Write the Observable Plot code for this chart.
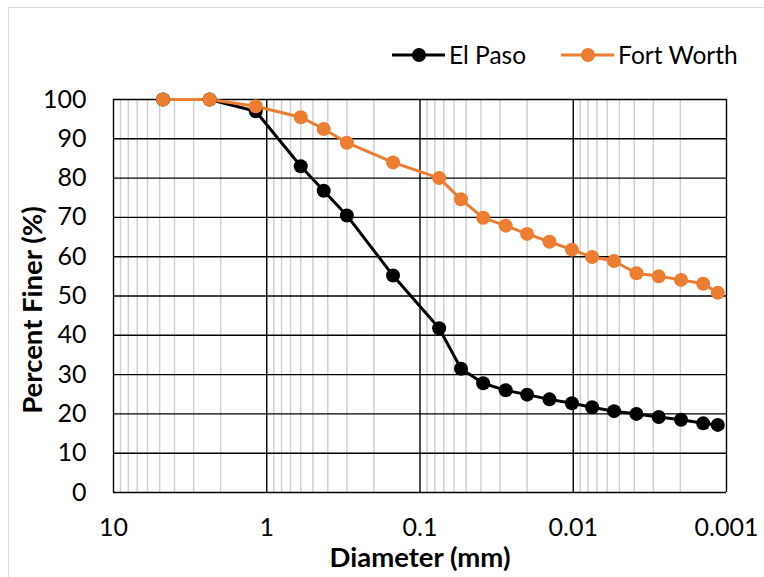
<!DOCTYPE html>
<html>
<head>
<meta charset="utf-8">
<script src="https://cdn.jsdelivr.net/npm/d3@7"></script>
<script src="https://cdn.jsdelivr.net/npm/@observablehq/plot@0.6"></script>
<style>
  html, body { margin: 0; padding: 0; background: #fff; }
  #wrap { position: relative; width: 764px; height: 577px; overflow: hidden; font-family: Lato, "Open Sans", sans-serif; }
  #border { position: absolute; left: 8px; top: 7px; width: 800px; height: 600px; border: 1.5px solid #d9d9d9; box-sizing: border-box; }
  #legend { position: absolute; top: 40px; left: 391px; display: flex; align-items: center; font-size: 24.5px; color: #000; white-space: nowrap; }
  .item { display: flex; align-items: center; margin-right: 34px; }
  .item svg { margin-right: 3px; }
  svg.chart { position: absolute; left: 0; top: 0; }
</style>
</head>
<body>
<div id="wrap"><div id="border"></div><div id="legend"></div></div>
<script>
// Diameters (mm) shared by both series
const diameters = [4.75, 2.36, 1.18, 0.6, 0.425, 0.3, 0.15, 0.075, 0.054, 0.0387, 0.0276, 0.020, 0.0143, 0.0102, 0.00753, 0.00542, 0.00387, 0.00277, 0.00198, 0.00142, 0.00114];
const elPaso = [100, 100, 97.0, 83.0, 76.8, 70.5, 55.2, 41.8, 31.5, 27.8, 26.0, 24.9, 23.7, 22.7, 21.7, 20.7, 20.0, 19.2, 18.5, 17.6, 17.2];
const fortWorth = [100, 100, 98.3, 95.5, 92.5, 89.0, 84.0, 80.0, 74.6, 69.9, 67.9, 65.8, 63.8, 61.8, 59.9, 58.9, 55.8, 55.0, 54.1, 53.1, 50.8];
const seriesNames = ["El Paso", "Fort Worth"];
const seriesColors = ["#000000", "#ED7D31"];
const xTicks = [10, 1, 0.1, 0.01, 0.001];
const yTicks = [0, 10, 20, 30, 40, 50, 60, 70, 80, 90, 100];
const xTitle = "Diameter (mm)";
const yTitle = "Percent Finer (%)";

const minorTicks = [];
for (const dec of [1, 0.1, 0.01, 0.001]) for (let k = 2; k <= 9; k++) minorTicks.push(+(k * dec).toPrecision(3));

const rows = [];
[elPaso, fortWorth].forEach((vals, si) => vals.forEach((v, i) => rows.push({series: seriesNames[si], d: diameters[i], p: v})));

const chart = Plot.plot({
  width: 764, height: 577,
  marginLeft: 113, marginRight: 38, marginTop: 99, marginBottom: 85,
  style: {fontFamily: "Lato, 'Open Sans', sans-serif", fontSize: "25px", color: "#000", background: "transparent"},
  x: {type: "log", domain: [10, 0.001]},
  y: {domain: [0, 100]},
  color: {domain: seriesNames, range: seriesColors},
  marks: [
    Plot.ruleX(minorTicks, {stroke: "#d0d0d0", strokeWidth: 1.5}),
    Plot.ruleY(yTicks, {stroke: "#000", strokeWidth: 1.4}),
    Plot.ruleX(xTicks, {stroke: "#000", strokeWidth: 1.4}),
    Plot.axisX(xTicks, {tickSize: 0, tickPadding: 26, tickFormat: d => String(d), fontSize: 25, label: xTitle, labelArrow: "none", labelAnchor: "center", labelOffset: 74}),
    Plot.axisY(yTicks, {tickSize: 0, tickPadding: 27, fontSize: 25, label: yTitle, labelArrow: "none", labelAnchor: "center", labelOffset: 88}),
    Plot.line(rows, {x: "d", y: "p", stroke: "series", strokeWidth: 3, z: "series"}),
    Plot.dot(rows, {x: "d", y: "p", fill: "series", r: 7, stroke: "none"})
  ]
});
chart.classList.add("chart");
const xl = chart.querySelector('g[aria-label="x-axis label"] text');
const yl = chart.querySelector('g[aria-label="y-axis label"] text');
if (xl) { xl.textContent = xTitle; xl.setAttribute("font-weight", "bold"); xl.setAttribute("font-size", "27.5"); }
if (yl) {
  yl.textContent = yTitle; yl.setAttribute("font-weight", "bold"); yl.setAttribute("font-size", "27.5");
  yl.setAttribute("transform", "translate(-3,14) " + (yl.getAttribute("transform") || ""));
}
document.getElementById("wrap").appendChild(chart);

const legend = document.getElementById("legend");
seriesNames.forEach((name, i) => {
  const item = document.createElement("div");
  item.className = "item";
  item.innerHTML = `<svg width="55" height="20"><line x1="1" y1="10" x2="54" y2="10" stroke="${seriesColors[i]}" stroke-width="3"/><circle cx="28" cy="10" r="7" fill="${seriesColors[i]}"/></svg><span>${name}</span>`;
  legend.appendChild(item);
});
</script>
</body>
</html>
